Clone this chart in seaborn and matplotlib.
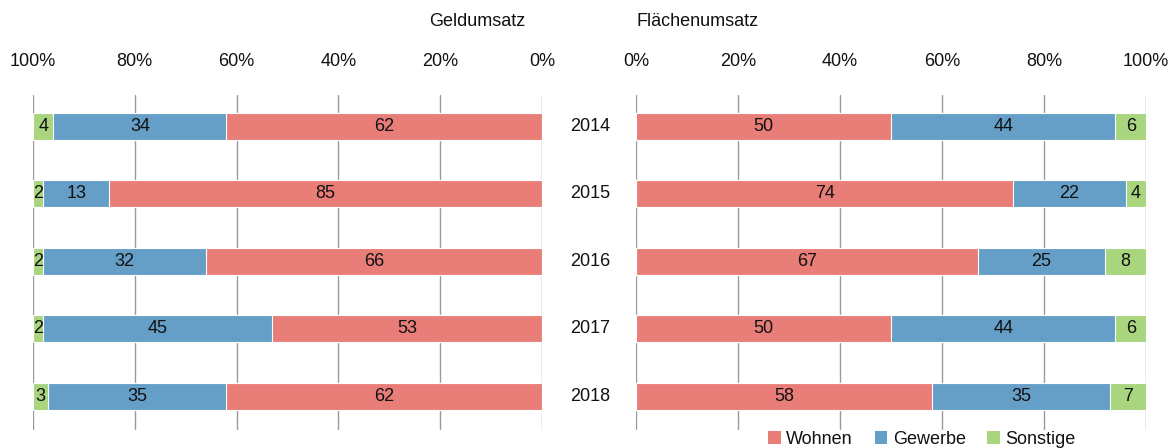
import numpy as np
import pandas as pd
import matplotlib
matplotlib.use("Agg")
import matplotlib.pyplot as plt
from matplotlib.patches import Patch
import seaborn as sns

years = ["2014", "2015", "2016", "2017", "2018"]
geld_wohnen = [62, 85, 66, 53, 62]
geld_gewerbe = [34, 13, 32, 45, 35]
geld_sonstige = [4, 2, 2, 2, 3]
flaeche_wohnen = [50, 74, 67, 50, 58]
flaeche_gewerbe = [44, 22, 25, 44, 35]
flaeche_sonstige = [6, 4, 8, 6, 7]

series_names = ["Wohnen", "Gewerbe", "Sonstige"]
colors = {"Wohnen": "#E97E78", "Gewerbe": "#659FC8", "Sonstige": "#A8D57E"}
tick_labels = ["0%", "20%", "40%", "60%", "80%", "100%"]

sns.set_theme(style="white")
plt.rcParams["font.family"] = ["Liberation Sans Narrow", "Liberation Sans", "DejaVu Sans"]
plt.rcParams["font.size"] = 13
plt.rcParams["text.color"] = "#111111"

W, H = 1172, 448
fig = plt.figure(figsize=(W / 100, H / 100), dpi=100)
top, bottom = 95, 430
ax_l = fig.add_axes([33 / W, 1 - bottom / H, (542 - 33) / W, (bottom - top) / H])
ax_r = fig.add_axes([636 / W, 1 - bottom / H, (1146 - 636) / W, (bottom - top) / H])


def draw_stack(ax, wohnen, gewerbe, sonstige):
    df = pd.DataFrame({"year": years, "Wohnen": wohnen, "Gewerbe": gewerbe,
                       "Sonstige": sonstige})
    df["c1"] = df["Wohnen"]
    df["c2"] = df["c1"] + df["Gewerbe"]
    df["c3"] = df["c2"] + df["Sonstige"]
    # longest cumulative first, shorter ones on top
    for col, name in [("c3", "Sonstige"), ("c2", "Gewerbe"), ("c1", "Wohnen")]:
        sns.barplot(data=df, x=col, y="year", orient="h", color=colors[name],
                    width=0.4, edgecolor="white", linewidth=0.8, saturation=1,
                    ax=ax, zorder=3)
    for i, row in df.iterrows():
        starts = [0, row["c1"], row["c2"]]
        vals = [row["Wohnen"], row["Gewerbe"], row["Sonstige"]]
        for s, v in zip(starts, vals):
            ax.text(s + v / 2, i, f"{v}", ha="center", va="center",
                    fontsize=13, color="#111111", zorder=4)
    ax.set_xlim(0, 100)
    ax.set_ylim(4.5, -0.46)
    ax.set_xticks(np.arange(0, 101, 20))
    ax.set_xticklabels(tick_labels)
    ax.xaxis.tick_top()
    ax.tick_params(axis="x", length=0, pad=18, labelsize=13, colors="#111111")
    ax.set_yticks([])
    ax.set_xlabel("")
    ax.set_ylabel("")
    ax.grid(axis="x", color="#9a9a9a", linewidth=1, zorder=0)
    ax.set_axisbelow(True)
    for sp in ax.spines.values():
        sp.set_visible(False)


draw_stack(ax_l, geld_wohnen, geld_gewerbe, geld_sonstige)
ax_l.invert_xaxis()
draw_stack(ax_r, flaeche_wohnen, flaeche_gewerbe, flaeche_sonstige)

# year labels between the two panels
for i, y in enumerate(years):
    ax_r.annotate(y, xy=(0, i), xycoords=("axes fraction", "data"),
                  xytext=(-46, 0), textcoords="offset pixels",
                  ha="center", va="center", fontsize=13, color="#111111")

fig.text(525 / W, 1 - 22 / H, "Geldumsatz", ha="right", va="center",
         fontsize=13, color="#111111")
fig.text(636 / W, 1 - 22 / H, "Flächenumsatz", ha="left", va="center",
         fontsize=13, color="#111111")

handles = [Patch(facecolor=colors[n], edgecolor="none", label=n) for n in series_names]
fig.legend(handles=handles, loc="center", bbox_to_anchor=(922 / W, 1 - 439 / H),
           ncol=3, frameon=False, fontsize=13, handlelength=0.7, handleheight=0.7,
           handletextpad=0.3, columnspacing=1.2, borderpad=0, labelcolor="#111111")

fig.savefig("out.png", dpi=100)
